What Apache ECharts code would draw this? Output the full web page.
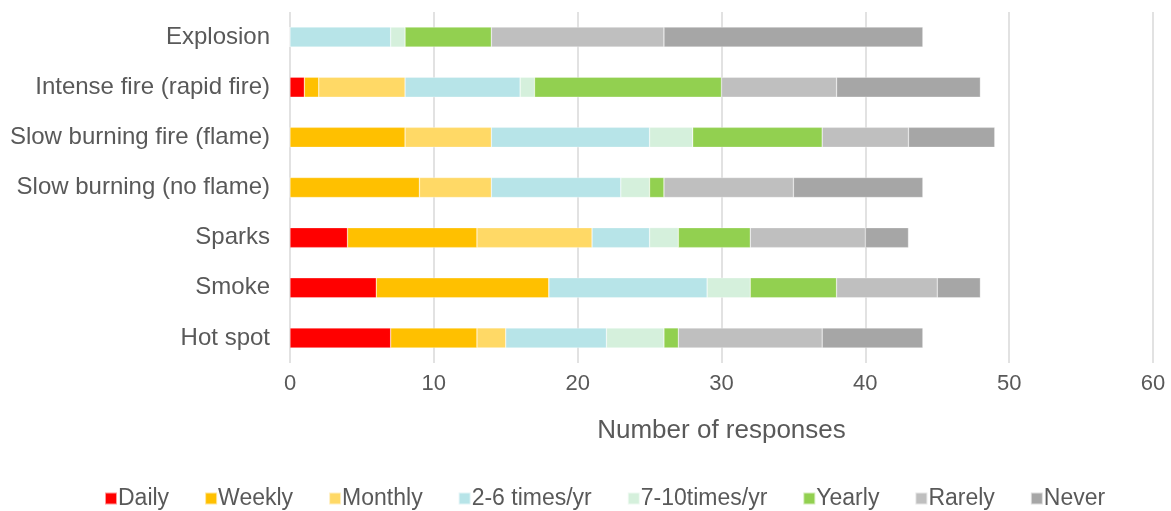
<!DOCTYPE html>
<html>
<head>
<meta charset="utf-8">
<script src="https://cdn.jsdelivr.net/npm/echarts@6/dist/echarts.min.js"></script>
<style>
  html, body { margin: 0; padding: 0; background: #fff; }
  #chart { width: 1171px; height: 511px; }
</style>
</head>
<body>
<div id="chart"></div>
<script>
// categories, top to bottom
const categories = ["Explosion", "Intense fire (rapid fire)", "Slow burning fire (flame)",
  "Slow burning (no flame)", "Sparks", "Smoke", "Hot spot"];

// responses per frequency, same order as categories
const daily    = [0, 1, 0, 0, 4, 6, 7];
const weekly   = [0, 1, 8, 9, 9, 12, 6];
const monthly  = [0, 6, 6, 5, 8, 0, 2];
const times2to6 = [7, 8, 11, 9, 4, 11, 7];
const times7to10 = [1, 1, 3, 2, 2, 3, 4];
const yearly   = [6, 13, 9, 1, 5, 6, 1];
const rarely   = [12, 8, 6, 9, 8, 7, 10];
const never    = [18, 10, 6, 9, 3, 3, 7];

const xTicks = [0, 10, 20, 30, 40, 50, 60];

const seriesDefs = [
  { name: "Daily", data: daily, color: "#FF0000" },
  { name: "Weekly", data: weekly, color: "#FFC000" },
  { name: "Monthly", data: monthly, color: "#FFD966" },
  { name: "2-6 times/yr", data: times2to6, color: "#B7E4E8" },
  { name: "7-10times/yr", data: times7to10, color: "#D5F0DC" },
  { name: "Yearly", data: yearly, color: "#92D050" },
  { name: "Rarely", data: rarely, color: "#BFBFBF" },
  { name: "Never", data: never, color: "#A6A6A6" }
];

const font = "Liberation Sans, Arial, sans-serif";
const textColor = "#595959";

const chart = echarts.init(document.getElementById("chart"));
chart.setOption({
  animation: false,
  textStyle: { fontFamily: font },
  grid: { left: 290, right: 18, top: 12, bottom: 148 },
  legend: {
    top: 482,
    left: 99,
    itemWidth: 12,
    itemHeight: 12,
    itemGap: 35,
    icon: "rect",
    textStyle: { fontSize: 23, color: textColor, fontFamily: font, padding: [0, 0, 0, -4] },
    data: seriesDefs.map(s => s.name)
  },
  xAxis: {
    type: "value",
    min: xTicks[0],
    max: xTicks[xTicks.length - 1],
    interval: 10,
    axisLine: { show: false },
    axisTick: { show: false },
    axisLabel: { fontSize: 22, color: textColor, margin: 10 },
    splitLine: { lineStyle: { color: "#D9D9D9", width: 1.5 } },
    name: "Number of responses",
    nameLocation: "middle",
    nameGap: 55,
    nameTextStyle: { fontSize: 26, color: textColor }
  },
  yAxis: {
    type: "category",
    inverse: true,
    data: categories,
    axisLine: { show: false },
    axisTick: { show: false },
    axisLabel: { fontSize: 24, color: textColor, margin: 20 }
  },
  series: seriesDefs.map(s => ({
    name: s.name,
    type: "bar",
    stack: "total",
    barWidth: 20,
    data: s.data,
    itemStyle: { color: s.color, borderColor: "rgba(255,255,255,0.6)", borderWidth: 0.5 }
  }))
});
</script>
</body>
</html>
